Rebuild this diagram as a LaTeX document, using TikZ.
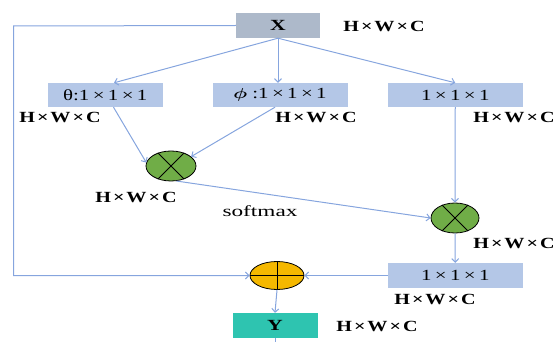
\documentclass[tikz,border=0pt]{standalone}
\usepackage{fontspec}
\setmainfont{Liberation Serif}
\usepackage{graphicx}
\usetikzlibrary{shapes.geometric,arrows.meta}
\definecolor{boxblue}{HTML}{B4C7E7}
\definecolor{xgray}{HTML}{ADB9CA}
\definecolor{yteal}{HTML}{2EC4B0}
\definecolor{linblue}{HTML}{86A5DE}
\definecolor{mulgreen}{HTML}{70AD47}
\definecolor{addorange}{HTML}{F5B800}
\newcommand\strx[2][1.3]{\scalebox{#1}[1]{#2}}
\newcommand\tx{\kern1.5pt×\kern1.5pt}
\newcommand\bx{\kern2.5pt×\kern2.5pt}
\newcommand\hwc{\strx{\bfseries H\tx W\tx C}}
\begin{document}
\begin{tikzpicture}[x=1pt,y=-1pt,font=\fontsize{15.5}{17}\selectfont,
  blk/.style={fill=boxblue,inner sep=0pt,minimum height=24pt},
  conn/.style={draw=linblue,line width=1pt,-{Straight Barb[length=3.5pt,width=7pt]}},
  plainline/.style={draw=linblue,line width=1pt},
  opnode/.style={ellipse,draw=black,line width=0.8pt,inner sep=0pt},
  lbl/.style={inner sep=0pt}]
\useasboundingbox (0,0) rectangle (560,342);
% top input
\node[fill=xgray,inner sep=0pt,minimum width=84pt,minimum height=25pt] (x) at (278,25.5) {\strx[1.4]{\bfseries X}};
\node[lbl] (xl) at (384,26) {\hwc};
% three branches
\node[blk,minimum width=115.5pt] (th) at (105.25,95) {\strx[1.35]{θ:1\bx 1\bx 1}};
\node[blk,minimum width=135pt] (ph) at (280,95) {\strx[1.35]{\boldmath$\phi$ :1\bx 1\bx 1}};
\node[blk,minimum width=134.5pt] (g) at (455.25,95) {\strx[1.35]{1\bx 1\bx 1}};
\node[lbl] (thl) at (60,117) {\hwc};
\node[lbl] (phl) at (316,117) {\hwc};
\node[lbl] (gl) at (514,117) {\hwc};
% multiply nodes
\node[opnode,fill=mulgreen,minimum width=50pt,minimum height=30pt] (c1) at (171,166) {};
\draw[line width=0.8pt] (c1.45) -- (c1.225) (c1.135) -- (c1.315);
\node[lbl] (c1l) at (136,197) {\hwc};
\node[lbl] (sm) at (260,211) {\strx[1.5]{softmax}};
\node[opnode,fill=mulgreen,minimum width=48pt,minimum height=30pt] (c2) at (455,218) {};
\draw[line width=0.8pt] (c2.45) -- (c2.225) (c2.135) -- (c2.315);
\node[lbl] (c2l) at (514,243) {\hwc};
% output conv
\node[blk,minimum width=134.5pt,minimum height=25pt] (o) at (455.25,275.5) {\strx[1.35]{1\bx 1\bx 1}};
\node[lbl] (ol) at (435,299) {\hwc};
% add node
\node[opnode,fill=addorange,minimum width=54pt,minimum height=28pt] (p) at (277,275.5) {};
\draw[line width=0.8pt] (p.north) -- (p.south) (p.west) -- (p.east);
% output
\node[fill=yteal,inner sep=0pt,minimum width=85pt,minimum height=25pt] (y) at (275,325.5) {\strx[1.4]{\bfseries Y}};
\node[lbl] (yl) at (377,326) {\hwc};
\coordinate (yend) at (275,342);
\coordinate (lt) at (13.5,26);
\coordinate (lb) at (13.5,275.5);
% connectors
\draw[conn] (x.south) -- (th.north -| 114,0);
\draw[conn] (x.south) -- (ph.north -| x.south);
\draw[conn] (x.south) -- (g.north);
\draw[conn] (th.south -| 113.5,0) -- (c1.172);
\draw[conn] (ph.south -| 275,0) -- (c1.25);
\draw[conn] (c1.290) -- (c2.west);
\draw[conn] (g.south) -- (c2.north);
\draw[conn] (c2.south) -- (o.north);
\draw[conn] (o.west) -- (p.east);
\draw[conn] (x.west) -- (lt) -- (lb) -- (p.west);
\draw[conn] (p.south) -- (y.north);
\draw[plainline] (y.south) -- (yend);
\end{tikzpicture}
\end{document}
